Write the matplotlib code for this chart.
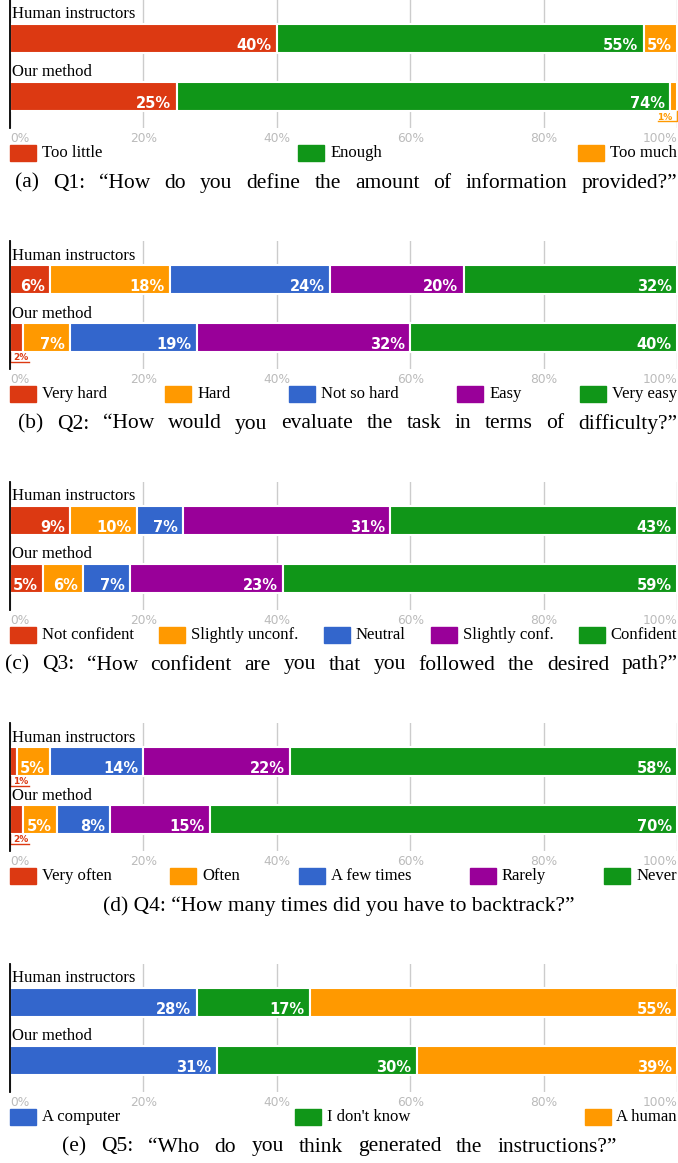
import numpy as np
import matplotlib.pyplot as plt
from matplotlib.patches import Rectangle

W, H = 678, 1163
SERIF = ['Liberation Serif', 'DejaVu Serif']

red = '#DC3912'
orange = '#FF9900'
blue = '#3366CC'
purple = '#990099'
green = '#109618'

groups = ['Human instructors', 'Our method']
ticks = [0, 20, 40, 60, 80, 100]
tick_labels = ['0%', '20%', '40%', '60%', '80%', '100%']

# Q1
q1_cats = ['Too little', 'Enough', 'Too much']
q1_human = [40, 55, 5]
q1_ours = [25, 74, 1]
q1_caption = '(a) Q1: \u201cHow do you define the amount of information provided?\u201d'

# Q2
q2_cats = ['Very hard', 'Hard', 'Not so hard', 'Easy', 'Very easy']
q2_human = [6, 18, 24, 20, 32]
q2_ours = [2, 7, 19, 32, 40]
q2_caption = '(b) Q2: \u201cHow would you evaluate the task in terms of difficulty?\u201d'

# Q3
q3_cats = ['Not confident', 'Slightly unconf.', 'Neutral', 'Slightly conf.', 'Confident']
q3_human = [9, 10, 7, 31, 43]
q3_ours = [5, 6, 7, 23, 59]
q3_caption = '(c) Q3: \u201cHow confident are you that you followed the desired path?\u201d'

# Q4
q4_cats = ['Very often', 'Often', 'A few times', 'Rarely', 'Never']
q4_human = [1, 5, 14, 22, 58]
q4_ours = [2, 5, 8, 15, 70]
q4_caption = '(d) Q4: \u201cHow many times did you have to backtrack?\u201d'

# Q5
q5_cats = ['A computer', "I don't know", 'A human']
q5_human = [28, 17, 55]
q5_ours = [31, 30, 39]
q5_caption = '(e) Q5: \u201cWho do you think generated the instructions?\u201d'

five = [red, orange, blue, purple, green]

fig = plt.figure(figsize=(W / 100, H / 100), dpi=100)
renderer = fig.canvas.get_renderer()


def fy(py):
    return 1 - py / H


def draw_panel(off, cats, colors, human, ours, caption, span):
    ax = fig.add_axes([10 / W, fy(off + 128), 667 / W, 128 / H])
    ax.set_xlim(0, 100)
    ax.set_ylim(128, 0)
    for name, vals, yc in [(groups[0], human, 38.5), (groups[1], ours, 96.5)]:
        vals = np.array(vals)
        left = np.concatenate([[0], np.cumsum(vals)[:-1]])
        ax.barh(yc, vals, left=left, height=29, color=colors,
                edgecolor='white', linewidth=1.5)
        ax.text(0.3, yc - 24, name, ha='left', va='center', fontsize=12,
                family=SERIF, color='black')
        yb = yc + 14.5
        for l, v, c in zip(left, vals, colors):
            if v >= 3:
                ax.text(l + v - 0.8, yc + 7, f'{v}%', ha='right', va='center',
                        color='white', weight='bold', fontsize=10.5)
            else:
                # tiny segment: small label hung under the bar
                w = 2.8
                if l + v / 2 < 50:
                    x0 = l
                    ax.text(x0 + 0.5, yb + 6, f'{v}%', ha='left', va='center',
                            color=c, weight='bold', fontsize=6.5)
                    ax.plot([x0, x0, x0 + w], [yb, yb + 10, yb + 10], color=c,
                            lw=1, clip_on=False)
                else:
                    x1 = l + v
                    ax.text(x1 - 0.7, yb + 6, f'{v}%', ha='right', va='center',
                            color=c, weight='bold', fontsize=6.5)
                    ax.plot([x1, x1, x1 - w], [yb, yb + 10, yb + 10], color=c,
                            lw=1, clip_on=False)
    ax.set_xticks(ticks)
    ax.set_xticklabels(tick_labels)
    ax.set_yticks([])
    ax.tick_params(axis='x', length=0, pad=3, labelsize=8.8, labelcolor='#bbbbbb')
    tl = ax.get_xticklabels()
    tl[0].set_ha('left')
    tl[-1].set_ha('right')
    ax.grid(axis='x', color='#cccccc', lw=1)
    ax.set_axisbelow(True)
    for s in ['top', 'right', 'bottom']:
        ax.spines[s].set_visible(False)
    ax.spines['left'].set_color('black')
    ax.spines['left'].set_linewidth(1.3)

    # legend spread across the width
    texts = [fig.text(0, fy(off + 153), c, fontsize=12, family=SERIF, va='center')
             for c in cats]
    widths = [t.get_window_extent(renderer).width for t in texts]
    total = sum(26 + 6 + w for w in widths)
    gap = (667 - total) / (len(cats) - 1)
    x = 10
    for t, w, col in zip(texts, widths, colors):
        fig.add_artist(Rectangle((x / W, fy(off + 161)), 26 / W, 16 / H,
                                 transform=fig.transFigure, color=col))
        t.set_x((x + 32) / W)
        x += 32 + w + gap

    # caption, justified when a span is given
    if span is None:
        fig.text(339 / W, fy(off + 183), caption, fontsize=15.5, family=SERIF,
                 ha='center', va='center')
    else:
        words = caption.split(' ')
        wts = [fig.text(0, fy(off + 183), wd, fontsize=15.5, family=SERIF, va='center')
               for wd in words]
        ww = [t.get_window_extent(renderer).width for t in wts]
        sp = (span[1] - span[0] - sum(ww)) / (len(words) - 1)
        x = span[0]
        for t, w in zip(wts, ww):
            t.set_x(x / W)
            x += w + sp


draw_panel(0, q1_cats, [red, green, orange], q1_human, q1_ours, q1_caption, (15, 677))
draw_panel(241, q2_cats, five, q2_human, q2_ours, q2_caption, (18, 677))
draw_panel(482, q3_cats, five, q3_human, q3_ours, q3_caption, (5, 678))
draw_panel(723, q4_cats, five, q4_human, q4_ours, q4_caption, None)
draw_panel(964, q5_cats, [blue, green, orange], q5_human, q5_ours, q5_caption, (62, 617))

fig.savefig('out.png', dpi=100)
